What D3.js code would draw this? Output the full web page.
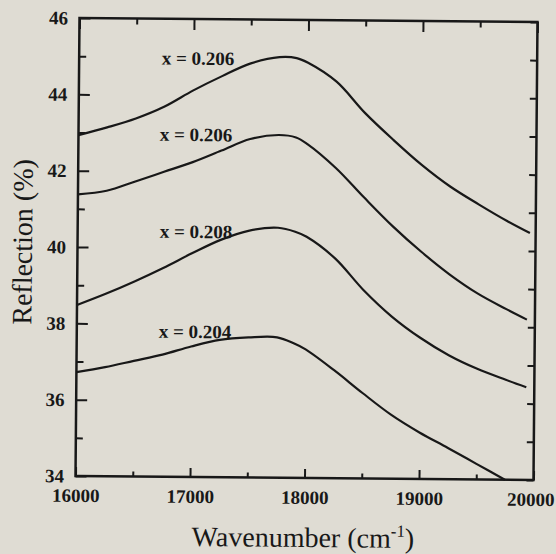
<!DOCTYPE html>
<html><head><meta charset="utf-8">
<script src="https://cdn.jsdelivr.net/npm/d3@7"></script>
<style>html,body{margin:0;padding:0;background:#dfdcd3;overflow:hidden}svg{display:block}</style>
</head><body>
<svg id="chart" width="556" height="554"></svg>
<script>
// ---- data ----
const xMajorTicks = [16000, 17000, 18000, 19000, 20000];
const xMinorTicks = [16500, 17500, 18500, 19500];
const yMajorTicks = [34, 36, 38, 40, 42, 44, 46];
const yMinorTicks = [35, 37, 39, 41, 43, 45];
const seriesLabels = ["x = 0.206", "x = 0.206", "x = 0.208", "x = 0.204"];

const wave1 = [16000,16250,16500,16750,17000,17250,17500,17750,17900,18000,18250,18500,18750,19000,19250,19500,19750,19950];
const refl1 = [42.93,43.14,43.38,43.70,44.13,44.51,44.85,45.02,45.00,44.88,44.39,43.58,42.88,42.23,41.67,41.21,40.78,40.47];

const wave2 = [16000,16250,16500,16750,17000,17250,17500,17750,17900,18000,18250,18500,18750,19000,19250,19500,19750,19930];
const refl2 = [41.38,41.48,41.73,41.99,42.25,42.56,42.87,42.98,42.92,42.75,42.13,41.36,40.62,39.96,39.37,38.87,38.47,38.20];

const wave3 = [16000,16250,16500,16750,17000,17250,17500,17750,17900,18000,18250,18500,18750,19000,19250,19500,19750,19930];
const refl3 = [38.48,38.78,39.11,39.47,39.86,40.22,40.47,40.55,40.45,40.32,39.76,38.94,38.25,37.70,37.25,36.90,36.62,36.43];

const wave4 = [16000,16250,16500,16750,17000,17250,17500,17750,17900,18000,18250,18500,18750,19000,19250,19500,19750];
const refl4 = [36.72,36.86,37.03,37.20,37.42,37.60,37.67,37.68,37.52,37.37,36.83,36.24,35.68,35.22,34.82,34.41,34.00];

// label anchor points (data coordinates)
const labelWave = [17038, 17027, 17034, 17033];
const labelRefl = [44.80, 42.80, 40.26, 37.64];

// ---- layout ----
const W = 556, H = 554;
const M = {left: 77.5, right: 535.5, top: 20, bottom: 478};
const ink = "#181818";
const serif = "'Liberation Serif','Times New Roman',serif";

const svg = d3.select("#chart");
svg.append("rect").attr("width", W).attr("height", H).attr("fill", "#dfdcd3");

// the scanned figure is slightly tilted
const root = svg.append("g").attr("transform", "rotate(0.5 306.5 249)");

const x = d3.scaleLinear().domain([16000, 20000]).range([M.left, M.right]);
const y = d3.scaleLinear().domain([34, 46]).range([M.bottom, M.top]);

function styleAxis(g) {
  g.select(".domain").remove();
  g.selectAll(".tick line").attr("stroke", ink).attr("stroke-width", 2);
  g.selectAll(".tick text").attr("fill", ink).attr("font-family", serif)
    .attr("font-size", 19).attr("font-weight", "bold");
}

// bottom
root.append("g").attr("transform", `translate(0,${M.bottom})`)
  .call(d3.axisBottom(x).tickValues(xMajorTicks).tickSize(-9).tickSizeOuter(0).tickPadding(12.5).tickFormat(d3.format("d")))
  .call(styleAxis)
  .call(g => g.selectAll(".tick text").filter(d => d === 20000).attr("dx", -3));
root.append("g").attr("transform", `translate(0,${M.bottom})`)
  .call(d3.axisBottom(x).tickValues(xMinorTicks).tickSize(-5).tickSizeOuter(0).tickFormat(""))
  .call(styleAxis);
// top
root.append("g").attr("transform", `translate(0,${M.top})`)
  .call(d3.axisTop(x).tickValues(xMajorTicks).tickSize(-11).tickSizeOuter(0).tickFormat(""))
  .call(styleAxis);
root.append("g").attr("transform", `translate(0,${M.top})`)
  .call(d3.axisTop(x).tickValues(xMinorTicks).tickSize(-6).tickSizeOuter(0).tickFormat(""))
  .call(styleAxis);
// left
root.append("g").attr("transform", `translate(${M.left},0)`)
  .call(d3.axisLeft(y).tickValues(yMajorTicks).tickSize(-11).tickSizeOuter(0).tickPadding(11.5).tickFormat(d3.format("d")))
  .call(styleAxis);
root.append("g").attr("transform", `translate(${M.left},0)`)
  .call(d3.axisLeft(y).tickValues(yMinorTicks).tickSize(-7).tickSizeOuter(0).tickFormat(""))
  .call(styleAxis);
// right
root.append("g").attr("transform", `translate(${M.right},0)`)
  .call(d3.axisRight(y).tickValues(yMajorTicks).tickSize(-7).tickSizeOuter(0).tickFormat(""))
  .call(styleAxis);
root.append("g").attr("transform", `translate(${M.right},0)`)
  .call(d3.axisRight(y).tickValues(yMinorTicks).tickSize(-7).tickSizeOuter(0).tickFormat(""))
  .call(styleAxis);

// frame
root.append("rect").attr("x", M.left).attr("y", M.top)
  .attr("width", M.right - M.left).attr("height", M.bottom - M.top)
  .attr("fill", "none").attr("stroke", ink).attr("stroke-width", 2.5);

// curves
const series = [[wave1, refl1], [wave2, refl2], [wave3, refl3], [wave4, refl4]];
const line = d3.line().x(d => x(d[0])).y(d => y(d[1])).curve(d3.curveCatmullRom.alpha(0.5));
series.forEach(([w, r]) => {
  root.append("path").datum(w.map((v, i) => [v, r[i]]))
    .attr("d", line).attr("fill", "none").attr("stroke", ink)
    .attr("stroke-width", 2.2).attr("stroke-linejoin", "round");
});

// curve labels
seriesLabels.forEach((t, i) => {
  root.append("text").attr("x", x(labelWave[i])).attr("y", y(labelRefl[i]))
    .attr("text-anchor", "middle").attr("font-family", serif).attr("font-size", 19)
    .attr("font-weight", "bold").attr("fill", ink).text(t);
});

// axis titles
root.append("text").attr("transform", "translate(32,244.4) rotate(-90)")
  .attr("text-anchor", "middle").attr("font-family", serif).attr("font-size", 28)
  .attr("fill", ink).text("Reflection (%)");
const xt = root.append("text").attr("x", 305.5).attr("y", 547)
  .attr("text-anchor", "middle").attr("font-family", serif).attr("font-size", 28).attr("fill", ink);
xt.append("tspan").text("Wavenumber (cm");
xt.append("tspan").attr("font-size", 17).attr("dy", -11).text("-1");
xt.append("tspan").attr("dy", 11).text(")");
</script>
</body></html>
